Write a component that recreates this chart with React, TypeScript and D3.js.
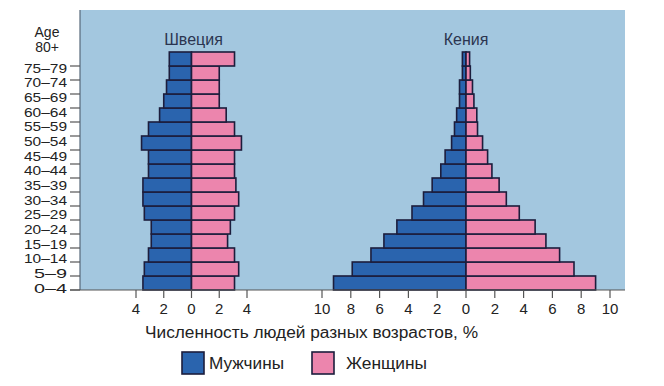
import * as d3 from "d3"

// age groups, bottom to top
const ages = [
  "0–4", "5–9", "10–14", "15–19", "20–24", "25–29", "30–34", "35–39",
  "40–44", "45–49", "50–54", "55–59", "60–64", "65–69", "70–74", "75–79", "80+",
]

const swedenMale = [3.5, 3.4, 3.1, 2.9, 2.9, 3.4, 3.5, 3.5, 3.1, 3.1, 3.6, 3.1, 2.3, 2.0, 1.8, 1.6, 1.6]
const swedenFemale = [3.1, 3.4, 3.1, 2.6, 2.8, 3.1, 3.4, 3.2, 3.1, 3.1, 3.6, 3.1, 2.5, 2.0, 2.0, 2.0, 3.1]

const kenyaMale = [9.2, 7.9, 6.6, 5.7, 4.8, 3.75, 2.95, 2.35, 1.75, 1.45, 1.0, 0.8, 0.65, 0.45, 0.45, 0.25, 0.25]
const kenyaFemale = [9.0, 7.5, 6.5, 5.55, 4.8, 3.7, 2.8, 2.3, 1.8, 1.5, 1.15, 0.8, 0.75, 0.55, 0.45, 0.3, 0.25]

const swedenTicks = [-4, -2, 0, 2, 4]
const kenyaTicks = [-10, -8, -6, -4, -2, 0, 2, 4, 6, 8, 10]

const legendItems = ["Мужчины", "Женщины"]

const BLUE = "#2a64ae"
const PINK = "#ec85ad"
const OUTLINE = "#1c1d3c"
const BG = "#a3c7df"
const FONT = "'Liberation Sans', Arial, sans-serif"

export default function App() {
  const width = 664
  const height = 386
  const panel = { left: 80, top: 10, right: 625, bottom: 290 }

  const y = d3.scaleBand<string>().domain(ages).range([panel.bottom, 52]).padding(0)
  // tick labels are spaced a little wider than the bars in the original
  const labelY = d3.scalePoint<string>().domain(ages.slice(0, 16)).range([288, 68])

  const xSweden = d3.scaleLinear().domain([-4, 4]).range([136, 247])
  const xKenya = d3.scaleLinear().domain([-10, 10]).range([322, 610])

  const pyramid = (
    x: d3.ScaleLinear<number, number>,
    male: number[],
    female: number[],
    key: string
  ) => (
    <g key={key}>
      {ages.map((a, i) => (
        <g key={a}>
          <rect
            x={x(-male[i])}
            y={y(a)}
            width={x(0) - x(-male[i])}
            height={y.bandwidth()}
            fill={BLUE}
            stroke={OUTLINE}
            strokeWidth={1.6}
          />
          <rect
            x={x(0)}
            y={y(a)}
            width={x(female[i]) - x(0)}
            height={y.bandwidth()}
            fill={PINK}
            stroke={OUTLINE}
            strokeWidth={1.6}
          />
        </g>
      ))}
    </g>
  )

  const xTicks = (x: d3.ScaleLinear<number, number>, ticks: number[], key: string) => (
    <g key={key}>
      {ticks.map((t) => (
        <g key={t} transform={`translate(${x(t)},${panel.bottom})`}>
          <line y2={8} stroke="#555" strokeWidth={1.2} />
          <text y={24} textAnchor="middle" fontSize={15} fill="#222">
            {Math.abs(t)}
          </text>
        </g>
      ))}
    </g>
  )

  return (
    <svg
      width={width}
      height={height}
      style={{ position: "absolute", left: 0, top: 0, background: "#fff" }}
      fontFamily={FONT}
    >
      <rect
        x={panel.left}
        y={panel.top}
        width={panel.right - panel.left}
        height={panel.bottom - panel.top}
        fill={BG}
      />
      <line x1={panel.left} x2={panel.left} y1={panel.top} y2={panel.bottom} stroke="#56687a" strokeWidth={1.2} />

      {pyramid(xSweden, swedenMale, swedenFemale, "se")}
      {pyramid(xKenya, kenyaMale, kenyaFemale, "ke")}

      <line x1={70} x2={panel.right} y1={panel.bottom} y2={panel.bottom} stroke="#555" strokeWidth={1.2} />

      {/* age ticks at band bottoms */}
      {ages.map((a) => (
        <line
          key={a}
          x1={70}
          x2={panel.left}
          y1={(y(a) ?? 0) + y.bandwidth()}
          y2={(y(a) ?? 0) + y.bandwidth()}
          stroke="#555"
          strokeWidth={1.2}
        />
      ))}
      {ages.slice(0, 16).map((a) => (
        <text
          key={a}
          x={67}
          y={labelY(a)}
          dy="0.35em"
          textAnchor="end"
          fontSize={13.5}
          textLength={a.length > 3 ? 43 : 33}
          lengthAdjust="spacingAndGlyphs"
          fill="#222"
        >
          {a}
        </text>
      ))}
      <text x={47} y={32} dy="0.35em" textAnchor="middle" fontSize={14} fill="#222">Age</text>
      <text x={47} y={47} dy="0.35em" textAnchor="middle" fontSize={14} fill="#222">80+</text>

      <text x={xSweden(0) + 2} y={39} dy="0.35em" textAnchor="middle" fontSize={16} fill="#2b3550">Швеция</text>
      <text x={xKenya(0)} y={39} dy="0.35em" textAnchor="middle" fontSize={16} fill="#2b3550">Кения</text>

      {xTicks(xSweden, swedenTicks, "sx")}
      {xTicks(xKenya, kenyaTicks, "kx")}

      <text x={145} y={338} fontSize={16} textLength={333} lengthAdjust="spacingAndGlyphs" fill="#222">
        Численность людей разных возрастов, %
      </text>

      {legendItems.map((name, i) => (
        <g key={name} transform={`translate(${i === 0 ? 182 : 312},352)`}>
          <rect width={22} height={22} fill={i === 0 ? BLUE : PINK} stroke={OUTLINE} strokeWidth={1.6} />
          <text
            x={i === 0 ? 27 : 34}
            y={17}
            fontSize={16}
            textLength={i === 0 ? 75 : 81}
            lengthAdjust="spacingAndGlyphs"
            fill="#222"
          >
            {name}
          </text>
        </g>
      ))}
    </svg>
  )
}
